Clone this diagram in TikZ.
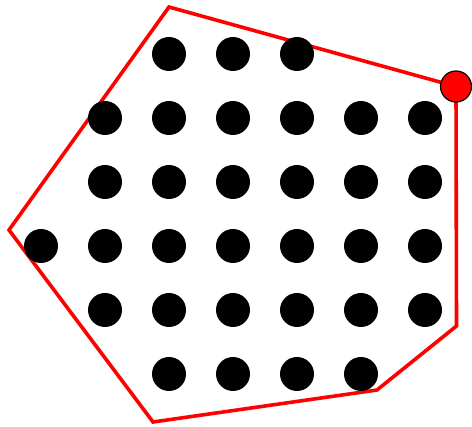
\documentclass[tikz,border=0pt]{standalone}
\begin{document}
\begin{tikzpicture}[x=1pt,y=-1pt,
  dot/.style={circle,fill=black,inner sep=0pt,minimum size=34pt},
  reddot/.style={circle,fill=red,draw=black,line width=1.2pt,inner sep=0pt,minimum size=31pt},
  hull/.style={draw=red,line width=3.6pt,line join=miter}]
\useasboundingbox (0,0) rectangle (472,427);
\coordinate (p1) at (169,7);
\coordinate (p2) at (456,86.5);
\coordinate (p3) at (456.5,326);
\coordinate (p4) at (377,390);
\coordinate (p5) at (153,422);
\coordinate (p6) at (9,230);
\draw[hull] (p1) -- (p2) -- (p3) -- (p4) -- (p5) -- (p6) -- cycle;
% row 1
\foreach \c in {3,4,5} \node[dot] (d1\c) at ({41+64*(\c-1)},54) {};
% row 2
\foreach \c in {2,...,7} \node[dot] (d2\c) at ({41+64*(\c-1)},118) {};
% row 3
\foreach \c in {2,...,7} \node[dot] (d3\c) at ({41+64*(\c-1)},182) {};
% row 4
\foreach \c in {1,...,7} \node[dot] (d4\c) at ({41+64*(\c-1)},246) {};
% row 5
\foreach \c in {2,...,7} \node[dot] (d5\c) at ({41+64*(\c-1)},310) {};
% row 6
\foreach \c in {3,...,6} \node[dot] (d6\c) at ({41+64*(\c-1)},374) {};
\node[reddot] (r) at (p2) {};
\end{tikzpicture}
\end{document}
